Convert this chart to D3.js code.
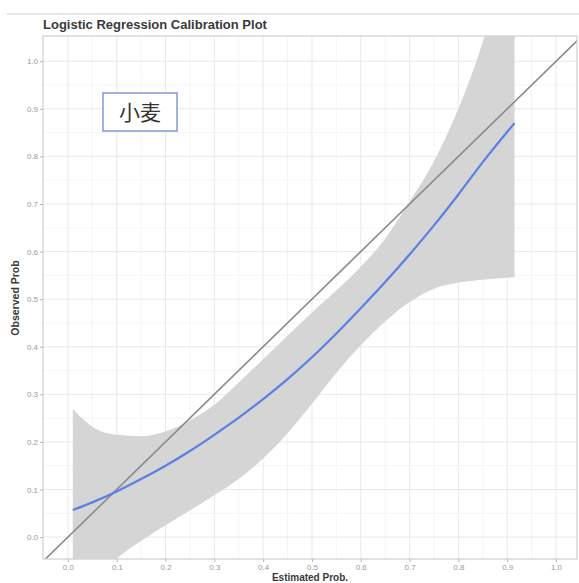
<!DOCTYPE html>
<html>
<head>
<meta charset="utf-8">
<script src="https://cdn.jsdelivr.net/npm/d3@7"></script>
<style>
  body { margin: 0; background: #fff; }
  svg { display: block; font-family: "Liberation Sans", Arial, sans-serif; }
</style>
</head>
<body>
<svg id="chart"></svg>
<script>
// smooth fit of observed vs estimated probability, with its confidence band
const estProb  = [0.01, 0.05, 0.1, 0.15, 0.2, 0.25, 0.3, 0.35, 0.4, 0.45, 0.5, 0.55, 0.6, 0.65, 0.7, 0.75, 0.8, 0.85, 0.915];
const fitProb  = [0.057, 0.073, 0.096, 0.122, 0.150, 0.181, 0.215, 0.251, 0.290, 0.332, 0.378, 0.428, 0.481, 0.536, 0.594, 0.655, 0.720, 0.788, 0.870];
const lowerCI  = [-0.15, -0.095, -0.045, -0.008, 0.025, 0.056, 0.088, 0.122, 0.165, 0.218, 0.28, 0.345, 0.403, 0.453, 0.494, 0.522, 0.535, 0.541, 0.546];
const upperCI  = [0.269, 0.232, 0.215, 0.212, 0.222, 0.245, 0.278, 0.325, 0.374, 0.423, 0.472, 0.518, 0.568, 0.627, 0.705, 0.79, 0.9, 1.04, 1.28];
const tickVals = [0, 0.1, 0.2, 0.3, 0.4, 0.5, 0.6, 0.7, 0.8, 0.9, 1.0];
const minorVals = [0.05, 0.15, 0.25, 0.35, 0.45, 0.55, 0.65, 0.75, 0.85, 0.95];

const width = 579, height = 583;
const panel = {left: 43, top: 36, right: 577, bottom: 559};

const svg = d3.select("#chart").attr("width", width).attr("height", height);

const x = d3.scaleLinear().domain([-0.051, 1.043]).range([panel.left, panel.right]);
const y = d3.scaleLinear().domain([-0.046, 1.053]).range([panel.bottom, panel.top]);

// top rule + title
svg.append("line").attr("x1", 7).attr("x2", width).attr("y1", 14).attr("y2", 14)
  .attr("stroke", "#d0d0d0").attr("stroke-width", 1.2);
svg.append("text").attr("x", 43).attr("y", 29)
  .attr("font-size", 13).attr("font-weight", "bold").attr("fill", "#3a3a3a")
  .text("Logistic Regression Calibration Plot");

svg.append("defs").append("clipPath").attr("id", "clip")
  .append("rect").attr("x", panel.left).attr("y", panel.top)
  .attr("width", panel.right - panel.left).attr("height", panel.bottom - panel.top);

const plot = svg.append("g").attr("clip-path", "url(#clip)");

// grid
plot.selectAll(".minx").data(minorVals).enter().append("line")
  .attr("x1", d => x(d)).attr("x2", d => x(d)).attr("y1", panel.top).attr("y2", panel.bottom)
  .attr("stroke", "#f1f1f1").attr("stroke-width", 0.7);
plot.selectAll(".miny").data(minorVals).enter().append("line")
  .attr("y1", d => y(d)).attr("y2", d => y(d)).attr("x1", panel.left).attr("x2", panel.right)
  .attr("stroke", "#f1f1f1").attr("stroke-width", 0.7);
plot.selectAll(".majx").data(tickVals).enter().append("line")
  .attr("x1", d => x(d)).attr("x2", d => x(d)).attr("y1", panel.top).attr("y2", panel.bottom)
  .attr("stroke", "#e6e6e6").attr("stroke-width", 0.9);
plot.selectAll(".majy").data(tickVals).enter().append("line")
  .attr("y1", d => y(d)).attr("y2", d => y(d)).attr("x1", panel.left).attr("x2", panel.right)
  .attr("stroke", "#e6e6e6").attr("stroke-width", 0.9);

const rows = estProb.map((e, i) => ({e: e, fit: fitProb[i], lo: lowerCI[i], hi: upperCI[i]}));

// confidence band
plot.append("path").datum(rows)
  .attr("d", d3.area().x(d => x(d.e)).y0(d => y(d.lo)).y1(d => y(d.hi)).curve(d3.curveMonotoneX))
  .attr("fill", "#d5d5d5");

// y = x reference
plot.append("line")
  .attr("x1", x(-0.1)).attr("y1", y(-0.1)).attr("x2", x(1.1)).attr("y2", y(1.1))
  .attr("stroke", "#8a8a8a").attr("stroke-width", 1.6);

// fitted curve
plot.append("path").datum(rows)
  .attr("d", d3.line().x(d => x(d.e)).y(d => y(d.fit)).curve(d3.curveMonotoneX))
  .attr("fill", "none").attr("stroke", "#5b7fe3").attr("stroke-width", 2.2);

// panel border
svg.append("rect").attr("x", panel.left).attr("y", panel.top)
  .attr("width", panel.right - panel.left).attr("height", panel.bottom - panel.top)
  .attr("fill", "none").attr("stroke", "#cfcfcf").attr("stroke-width", 1.2);

// axes
const fmt = d3.format(".1f");
const xAxis = svg.append("g").attr("transform", `translate(0,${panel.bottom})`)
  .call(d3.axisBottom(x).tickValues(tickVals).tickFormat(fmt).tickSize(3).tickPadding(2));
const yAxis = svg.append("g").attr("transform", `translate(${panel.left},0)`)
  .call(d3.axisLeft(y).tickValues(tickVals).tickFormat(fmt).tickSize(3).tickPadding(2));
[xAxis, yAxis].forEach(a => {
  a.select(".domain").remove();
  a.selectAll(".tick line").attr("stroke", "#b5b5b5");
  a.selectAll(".tick text").attr("fill", "#9a9a9a").attr("font-size", 8)
    .attr("font-family", "Liberation Sans, Arial, sans-serif");
});

svg.append("text").attr("x", 310).attr("y", 581).attr("text-anchor", "middle")
  .attr("font-size", 10).attr("font-weight", "bold").attr("fill", "#3a3a3a")
  .text("Estimated Prob.");
svg.append("text").attr("transform", "translate(19,298) rotate(-90)").attr("text-anchor", "middle")
  .attr("font-size", 10.5).attr("font-weight", "bold").attr("fill", "#3a3a3a")
  .text("Observed Prob");

// label box
svg.append("rect").attr("x", 103).attr("y", 93).attr("width", 74).attr("height", 38)
  .attr("fill", "#fff").attr("stroke", "#7f9bd2").attr("stroke-width", 1.5);
svg.append("text").attr("x", 140).attr("y", 120).attr("text-anchor", "middle")
  .attr("font-family", "Noto Sans CJK SC").attr("font-size", 21).attr("fill", "#333")
  .text("小麦");
</script>
</body>
</html>
